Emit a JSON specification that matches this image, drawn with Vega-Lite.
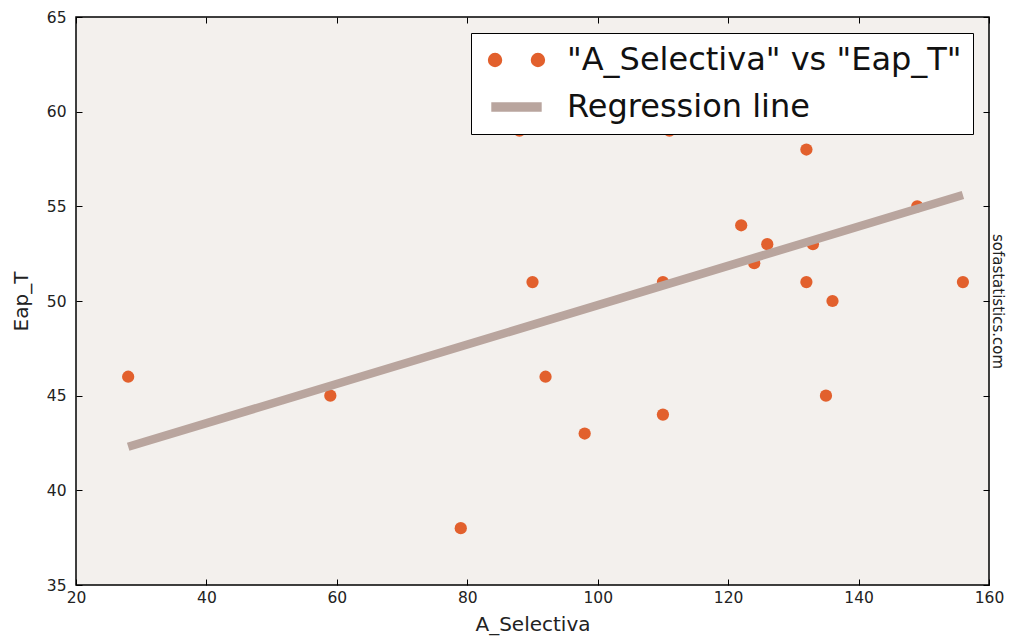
{
  "$schema": "https://vega.github.io/schema/vega-lite/v6.json",
  "width": 913,
  "height": 568,
  "autosize": {"type": "none"},
  "padding": {"left": 76, "top": 17, "right": 21, "bottom": 56},
  "background": "white",
  "config": {
    "font": "DejaVu Sans",
    "view": {"fill": "#f3f0ed", "stroke": "#000", "strokeWidth": 1.5},
    "axis": {"grid": false, "domain": false, "labelFlush": false, "tickColor": "#000", "tickWidth": 1, "tickSize": -6, "labelColor": "#222", "labelFontSize": 15.5, "labelFont": "DejaVu Sans", "titleFont": "DejaVu Sans", "titleFontWeight": "normal", "titleFontSize": 20, "titleColor": "#222"}
  },
  "datasets": {
    "pts": [
      {"A_Selectiva": 28, "Eap_T": 46, "series": "\"A_Selectiva\" vs \"Eap_T\""},
      {"A_Selectiva": 59, "Eap_T": 45, "series": "\"A_Selectiva\" vs \"Eap_T\""},
      {"A_Selectiva": 79, "Eap_T": 38, "series": "\"A_Selectiva\" vs \"Eap_T\""},
      {"A_Selectiva": 88, "Eap_T": 59, "series": "\"A_Selectiva\" vs \"Eap_T\""},
      {"A_Selectiva": 90, "Eap_T": 51, "series": "\"A_Selectiva\" vs \"Eap_T\""},
      {"A_Selectiva": 92, "Eap_T": 46, "series": "\"A_Selectiva\" vs \"Eap_T\""},
      {"A_Selectiva": 98, "Eap_T": 43, "series": "\"A_Selectiva\" vs \"Eap_T\""},
      {"A_Selectiva": 110, "Eap_T": 51, "series": "\"A_Selectiva\" vs \"Eap_T\""},
      {"A_Selectiva": 110, "Eap_T": 44, "series": "\"A_Selectiva\" vs \"Eap_T\""},
      {"A_Selectiva": 111, "Eap_T": 59, "series": "\"A_Selectiva\" vs \"Eap_T\""},
      {"A_Selectiva": 122, "Eap_T": 54, "series": "\"A_Selectiva\" vs \"Eap_T\""},
      {"A_Selectiva": 124, "Eap_T": 52, "series": "\"A_Selectiva\" vs \"Eap_T\""},
      {"A_Selectiva": 126, "Eap_T": 53, "series": "\"A_Selectiva\" vs \"Eap_T\""},
      {"A_Selectiva": 132, "Eap_T": 58, "series": "\"A_Selectiva\" vs \"Eap_T\""},
      {"A_Selectiva": 132, "Eap_T": 51, "series": "\"A_Selectiva\" vs \"Eap_T\""},
      {"A_Selectiva": 133, "Eap_T": 53, "series": "\"A_Selectiva\" vs \"Eap_T\""},
      {"A_Selectiva": 135, "Eap_T": 45, "series": "\"A_Selectiva\" vs \"Eap_T\""},
      {"A_Selectiva": 136, "Eap_T": 50, "series": "\"A_Selectiva\" vs \"Eap_T\""},
      {"A_Selectiva": 149, "Eap_T": 55, "series": "\"A_Selectiva\" vs \"Eap_T\""},
      {"A_Selectiva": 156, "Eap_T": 51, "series": "\"A_Selectiva\" vs \"Eap_T\""}
    ],
    "reg": [
      {"A_Selectiva": 28, "Eap_T": 42.3, "series": "Regression line"},
      {"A_Selectiva": 156, "Eap_T": 55.6, "series": "Regression line"}
    ]
  },
  "layer": [
    {
      "data": {"name": "pts"},
      "mark": {"type": "point", "filled": true, "size": 150, "opacity": 1},
      "encoding": {
        "x": {"field": "A_Selectiva", "type": "quantitative", "scale": {"domain": [20, 160], "nice": false, "zero": false},
          "axis": {"orient": "bottom", "title": "A_Selectiva", "values": [20, 40, 60, 80, 100, 120, 140, 160], "labelPadding": 11, "titlePadding": 9}},
        "y": {"field": "Eap_T", "type": "quantitative", "scale": {"domain": [35, 65], "nice": false, "zero": false},
          "axis": {"orient": "left", "title": "Eap_T", "values": [35, 40, 45, 50, 55, 60, 65], "labelPadding": 16, "titlePadding": 15}},
        "color": {"field": "series", "type": "nominal",
          "scale": {"domain": ["\"A_Selectiva\" vs \"Eap_T\"", "Regression line"], "range": ["#e2602d", "#b9a59e"]},
          "legend": {
            "title": null, "orient": "top-right", "offset": 16, "padding": 11,
            "fillColor": "white", "strokeColor": "#000", "cornerRadius": 0,
            "labelFontSize": 32, "labelFont": "DejaVu Sans", "labelColor": "#111", "labelLimit": 700,
            "symbolSize": 900, "symbolOffset": 18.5, "labelOffset": 34.5, "rowPadding": 15,
            "encode": {
              "legend": {"update": {"strokeWidth": {"value": 1.5}}},
              "symbols": {"update": {
                "size": {"value": 900},
                "fill": {"scale": "color", "field": "value"},
                "strokeWidth": {"value": 0},
                "opacity": {"value": 1}
              }}
            }
          }}
      }
    },
    {
      "data": {"name": "reg"},
      "mark": {"type": "line", "strokeWidth": 8.5, "strokeCap": "butt"},
      "encoding": {
        "x": {"field": "A_Selectiva", "type": "quantitative", "axis": null},
        "y": {"field": "Eap_T", "type": "quantitative", "axis": null},
        "color": {"field": "series", "type": "nominal"}
      }
    },
    {
      "data": {"name": "reg"},
      "mark": {"type": "point", "opacity": 0, "filled": true},
      "encoding": {
        "x": {"field": "A_Selectiva", "type": "quantitative", "axis": {"orient": "top", "labels": false, "title": null, "values": [20, 40, 60, 80, 100, 120, 140, 160]}},
        "y": {"field": "Eap_T", "type": "quantitative", "axis": {"orient": "right", "labels": false, "title": "sofastatistics.com", "titleAngle": 90, "titleFontSize": 15, "titlePadding": 0, "values": [35, 40, 45, 50, 55, 60, 65]}},
        "shape": {"field": "series", "type": "nominal",
          "scale": {"domain": ["\"A_Selectiva\" vs \"Eap_T\"", "Regression line"], "range": ["M-1,0A0.43,0.43 0 1,1 -1.86,0A0.43,0.43 0 1,1 -1,0ZM1.86,0A0.43,0.43 0 1,1 1,0A0.43,0.43 0 1,1 1.86,0Z", "M-1.63,-0.27L1.63,-0.27L1.63,0.27L-1.63,0.27Z"]},
          "legend": {
            "title": null, "orient": "top-right", "offset": 16, "padding": 11,
            "fillColor": "white", "strokeColor": "#000", "cornerRadius": 0,
            "labelFontSize": 32, "labelFont": "DejaVu Sans", "labelColor": "#111", "labelLimit": 700,
            "symbolSize": 900, "symbolOffset": 18.5, "labelOffset": 34.5, "rowPadding": 15,
            "encode": {
              "legend": {"update": {"strokeWidth": {"value": 1.5}}},
              "symbols": {"update": {
                "size": {"value": 900},
                "fill": {"scale": "color", "field": "value"},
                "strokeWidth": {"value": 0},
                "opacity": {"value": 1}
              }}
            }
          }}
      }
    }
  ],
  "resolve": {"axis": {"x": "independent", "y": "independent"}}
}
